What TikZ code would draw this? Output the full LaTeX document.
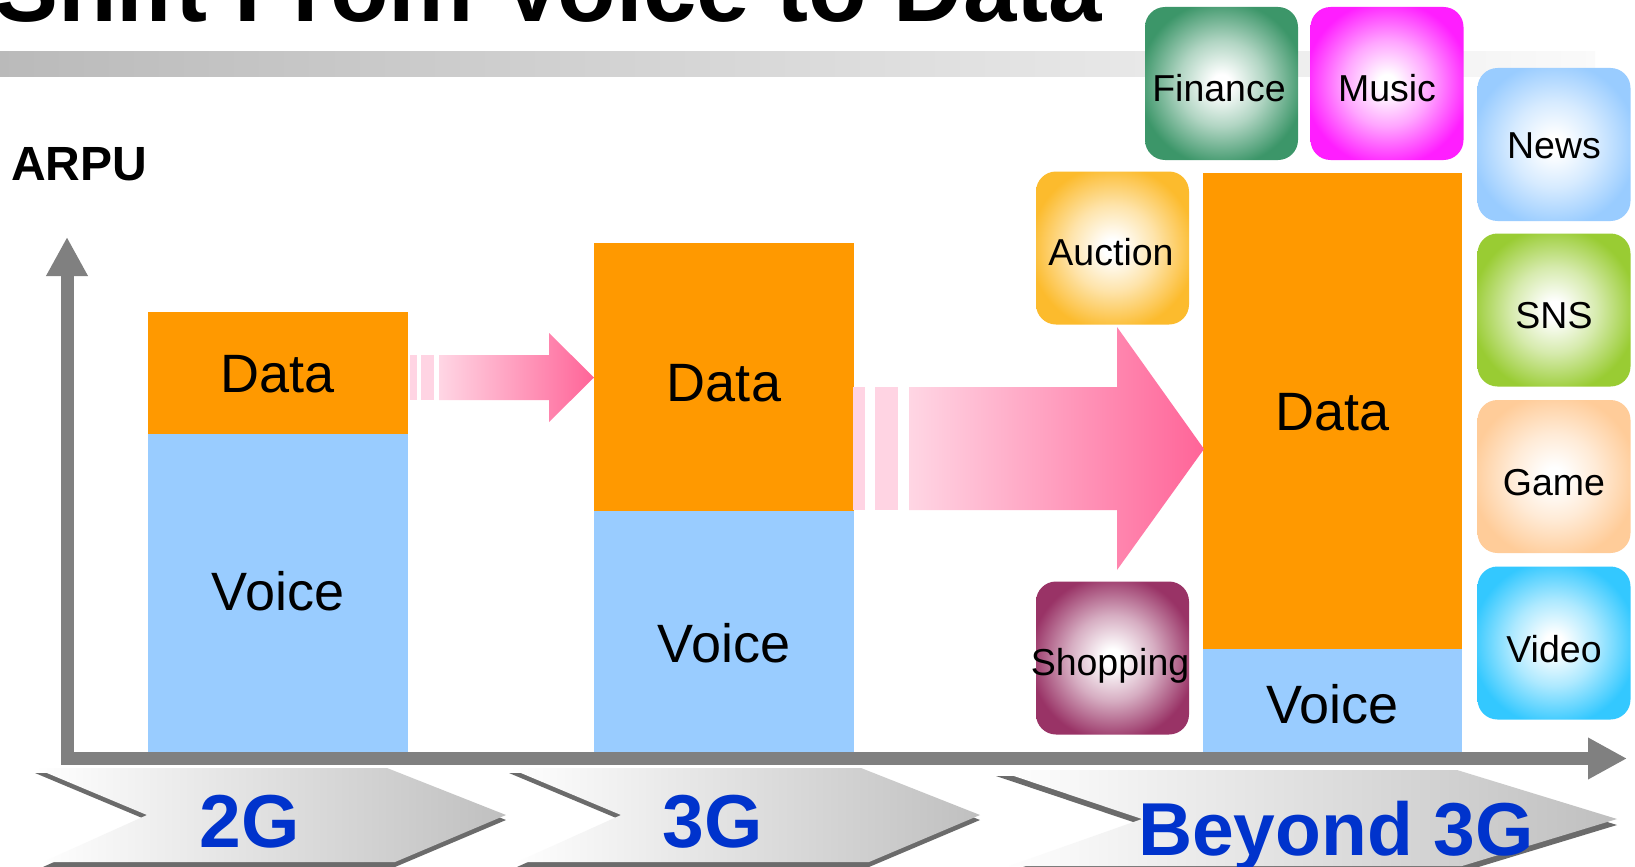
\documentclass[tikz,border=0pt]{standalone}
\usepackage{fontspec}
\setmainfont{Liberation Sans}
\usetikzlibrary{arrows.meta}
\definecolor{barorange}{RGB}{255,153,0}
\definecolor{barblue}{RGB}{153,204,255}
\definecolor{axisgray}{RGB}{128,128,128}
\definecolor{labelblue}{RGB}{0,51,204}
\definecolor{pinkL}{RGB}{255,214,228}
\definecolor{pinkR}{RGB}{255,100,152}
\definecolor{pinkStrip}{RGB}{255,212,227}
\definecolor{cFinance}{RGB}{60,150,105}
\definecolor{cMusic}{RGB}{255,30,255}
\definecolor{cNews}{RGB}{153,204,255}
\definecolor{cSNS}{RGB}{153,204,51}
\definecolor{cGame}{RGB}{255,204,153}
\definecolor{cVideo}{RGB}{51,200,255}
\definecolor{cAuction}{RGB}{252,187,45}
\definecolor{cShopping}{RGB}{153,51,102}
\colorlet{iconcol}{black}
\pgfdeclareradialshading[iconcol]{iconshade}{\pgfpoint{0bp}{0bp}}{color(0bp)=(white); color(3bp)=(white); color(14bp)=(iconcol!40!white); color(27bp)=(iconcol); color(75bp)=(iconcol)}
\begin{document}
\begin{tikzpicture}[x=1pt,y=-1pt,
  bar/.style={inner sep=0pt, outer sep=0pt, draw=none, minimum width=260pt},
  bartext/.style={font=\fontsize{54}{54}\selectfont, inner sep=0pt},
  icon/.style={inner sep=0pt, minimum width=153pt, minimum height=153pt, rounded corners=20pt, /utils/exec={\colorlet{iconcol}{#1}}, shade, shading=iconshade},
  icontext/.style={anchor=base, inner sep=0pt, font=\fontsize{37.5}{38}\selectfont},
  genlabel/.style={anchor=base, inner sep=0pt, text=labelblue, font=\fontsize{75}{75}\selectfont\bfseries},
  chevface/.style={left color=white, right color=black!25},
  chevside/.style={fill=black!58},
  pinkarrow/.style={left color=pinkL, right color=pinkR},
  axisline/.style={draw=axisgray, line width=13pt, line join=miter, {Triangle[length=39pt,width=39pt]}-{Triangle[length=39pt,width=39pt]}}
]
\useasboundingbox (0,0) rectangle (1635,867);
\clip (0,0) rectangle (1635,867);
\fill[white] (0,0) rectangle (1635,867);

% title
\shade[left color=black!27, right color=black!2] (0,52) rectangle (1595,76);
\node[anchor=base west, inner sep=0pt, font=\fontsize{96}{96}\selectfont\bfseries] (title) at (-6,22) {Shift From Voice to Data};

% ARPU
\node[anchor=base west, inner sep=0pt, font=\fontsize{48}{48}\selectfont\bfseries] (arpu) at (11,180) {ARPU};

% bars
\node[bar, fill=barorange, minimum height=122pt] (d2) at (278,373) {};
\node[bar, fill=barblue, minimum height=318pt] (v2) at (278,593) {};
\node[bar, fill=barorange, minimum height=268pt] (d3) at (724,377) {};
\node[bar, fill=barblue, minimum height=241pt] (v3) at (724,631.5) {};
\node[bar, fill=barorange, minimum width=259pt, minimum height=476pt] (db) at (1332.5,411) {};
\node[bar, fill=barblue, minimum width=259pt, minimum height=103pt] (vb) at (1332.5,700.5) {};

\node[bartext] (t2d) at (278,374) {Data};
\node[bartext] (t2v) at (278,591) {Voice};
\node[bartext] (t3d) at (724,383.5) {Data};
\node[bartext] (t3v) at (724,643) {Voice};
\node[bartext] (tbd) at (1332.5,412.5) {Data};
\node[bartext] (tbv) at (1332.5,704.5) {Voice};

% pink arrows
\fill[pinkStrip] (410,355) rectangle (417,400);
\fill[pinkStrip] (421,355) rectangle (434,400);
\shade[pinkarrow] (439,355) -- (549,355) -- (549,333) -- (594,377.5) -- (549,422) -- (549,400) -- (439,400) -- cycle;
\fill[pinkStrip] (853,387) rectangle (865,510);
\fill[pinkStrip] (875,387) rectangle (898,510);
\shade[pinkarrow] (909,387) -- (1117,387) -- (1117,327) -- (1204,449) -- (1117,570) -- (1117,510) -- (909,510) -- cycle;

% axes
\draw[axisline] (67,237) -- (67,758.5) -- (1627,758.5);

% icons
\node[icon=cFinance] (finance) at (1221.5,83.5) {};
\node[icon=cMusic] (music) at (1387,83.5) {};
\node[icon=cNews] (news) at (1554,144.5) {};
\node[icon=cSNS] (sns) at (1554,310) {};
\node[icon=cGame] (game) at (1554,476.5) {};
\node[icon=cVideo] (video) at (1554,643) {};
\node[icon=cAuction] (auction) at (1112.5,248) {};
\node[icon=cShopping] (shopping) at (1112.5,658) {};

\node[icontext] (lfinance) at (1219,101) {Finance};
\node[icontext] (lmusic) at (1387,101) {Music};
\node[icontext] (lnews) at (1554,158) {News};
\node[icontext] (lsns) at (1554,328) {SNS};
\node[icontext] (lgame) at (1554,495) {Game};
\node[icontext] (lvideo) at (1554,662) {Video};
\node[icontext] (lauction) at (1111,265) {Auction};
\node[icontext] (lshopping) at (1110,675) {Shopping};

% chevrons
\fill[chevside, shift={(0,5)}] (35,768) -- (387,768) -- (506,815) -- (395,862) -- (43,862) -- (147,815) -- cycle;
\shade[chevface] (35,768) -- (387,768) -- (506,815) -- (395,862) -- (43,862) -- (147,815) -- cycle;
\fill[chevside, shift={(0,5)}] (509,768) -- (861,768) -- (980,815) -- (869,862) -- (517,862) -- (621,815) -- cycle;
\shade[chevface] (509,768) -- (861,768) -- (980,815) -- (869,862) -- (517,862) -- (621,815) -- cycle;
\fill[chevside, shift={(0,6)}] (996,770) -- (1457,770) -- (1617,819) -- (1462,866) -- (1009,866) -- (1142,819) -- cycle;
\shade[chevface] (996,770) -- (1457,770) -- (1617,819) -- (1462,866) -- (1009,866) -- (1142,819) -- cycle;

\node[genlabel] (g2) at (250,847) {2G};
\node[genlabel] (g3) at (712.5,847) {3G};
\node[genlabel] (gb) at (1336,855) {Beyond 3G};
\end{tikzpicture}
\end{document}
